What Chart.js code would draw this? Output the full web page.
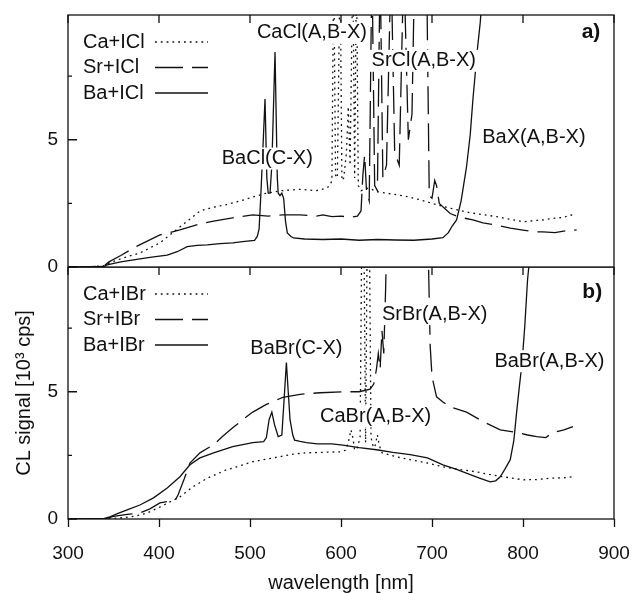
<!DOCTYPE html>
<html>
<head>
<meta charset="utf-8">
<script src="https://cdn.jsdelivr.net/npm/chart.js@4/dist/chart.umd.min.js"></script>
<style>
  body { margin: 0; background: #fff; }
  #wrap { position: relative; width: 634px; height: 593px; }
  canvas { position: absolute; left: 0; }
</style>
</head>
<body>
<div id="wrap">
  <canvas id="chartB" width="634" height="326" style="top:267px"></canvas>
  <canvas id="chartA" width="634" height="282" style="top:0"></canvas>
</div>
<script>
// axis ticks
const xTicks = [300, 400, 500, 600, 700, 800, 900];
const yTicks = [0, 2.5, 5, 7.5];

// panel a) : M + ICl   (wavelength in nm, signal in 10^3 cps)
const caIClWl = [300, 320, 340, 345, 360, 379, 390, 401, 415, 431, 445, 460, 474, 490, 503, 518, 535, 555, 573, 584, 588, 590, 592, 594, 596, 599, 601, 603, 606, 608, 610, 613, 615, 617, 619, 622, 630, 640, 650, 661, 675, 687, 700, 712, 727, 742, 757, 771, 785, 800, 812, 822, 835, 845, 852, 858];
const caIClVal = [0, 0, 0.05, 0.15, 0.35, 0.55, 0.75, 0.95, 1.35, 1.8, 2.2, 2.35, 2.45, 2.6, 2.75, 2.9, 3.0, 3.05, 3.0, 3.1, 3.2, 3.4, 12, 3.6, 3.5, 12, 3.4, 3.5, 4.5, 6.3, 4.0, 12, 3.5, 12, 3.2, 3.0, 3.1, 2.96, 2.9, 2.84, 2.75, 2.64, 2.5, 2.38, 2.25, 2.13, 2.05, 1.98, 1.88, 1.78, 1.82, 1.85, 1.92, 1.95, 2.05, 2.0];

const srIClWl = [300, 320, 340, 345, 358, 372, 386, 401, 412, 423, 434, 445, 460, 481, 503, 520, 536, 555, 573, 580, 590, 600, 610, 618, 622, 624, 626, 628, 631, 634, 637, 640, 643, 646, 650, 655, 659, 664, 669, 674, 678, 681, 694, 697, 700, 703, 705, 708, 714, 720, 727, 734, 745, 756, 770, 786, 800, 812, 822, 835, 847, 859];
const srIClVal = [0, 0, 0.05, 0.2, 0.45, 0.75, 1.0, 1.26, 1.35, 1.46, 1.58, 1.7, 1.8, 1.93, 2.05, 2.0, 2.05, 2.05, 2.0, 2.05, 1.98, 2.0, 1.95, 2.0, 2.2, 3.6, 4.4, 3.0, 2.6, 12, 3.2, 3.0, 12, 3.5, 4.0, 12, 4.5, 4.0, 12, 5.0, 6.0, 12, 12, 2.8, 2.7, 3.4, 3.2, 2.5, 2.3, 2.1, 2.0, 1.93, 1.85, 1.73, 1.65, 1.53, 1.45, 1.38, 1.38, 1.35, 1.42, 1.46];

const baIClWl = [300, 320, 340, 343, 358, 372, 390, 409, 420, 431, 442, 453, 467, 481, 492, 505, 508, 510, 512, 514, 516.5, 518.5, 520, 522, 524, 527.5, 530, 531, 533, 535, 537, 539, 541, 545, 548, 560, 580, 600, 620, 640, 660, 680, 700, 712, 718, 722, 727, 732, 738, 742, 745, 748, 750, 753, 756];
const baIClVal = [0, 0, 0.02, 0.08, 0.2, 0.28, 0.38, 0.47, 0.6, 0.8, 0.85, 0.87, 0.92, 0.95, 1.0, 1.05, 1.2, 1.5, 2.9, 4.5, 6.6, 3.5, 2.9, 2.9, 4.0, 8.45, 3.5, 2.9, 2.8, 2.9, 2.7, 1.8, 1.34, 1.2, 1.14, 1.1, 1.08, 1.1, 1.05, 1.08, 1.06, 1.05, 1.1, 1.15, 1.35, 1.6, 1.85, 2.6, 3.95, 5.2, 6.6, 7.8, 8.6, 9.6, 11];

// panel b) : M + IBr
const caIBrWl = [300, 320, 340, 360, 375, 387, 400, 412, 423, 437, 453, 474, 490, 503, 518, 533, 548, 562, 580, 599, 605, 608, 611, 613, 615, 618, 621, 623, 625, 627, 629, 631, 633, 635, 637, 640, 642, 645, 660, 676, 695, 712, 730, 749, 763, 778, 800, 815, 830, 845, 855];
const caIBrVal = [0, 0, 0, 0.05, 0.12, 0.24, 0.45, 0.67, 0.87, 1.26, 1.6, 1.93, 2.1, 2.25, 2.35, 2.45, 2.55, 2.6, 2.62, 2.64, 2.7, 3.0, 3.5, 3.2, 2.7, 2.8, 3.2, 12, 12, 3.0, 12, 12, 3.2, 2.9, 2.8, 3.3, 2.9, 2.6, 2.45, 2.33, 2.2, 2.05, 1.95, 1.85, 1.75, 1.66, 1.54, 1.55, 1.6, 1.62, 1.66];

const srIBrWl = [300, 320, 340, 350, 365, 379, 390, 401, 412, 418, 421, 428, 434, 445, 460, 470, 481, 492, 503, 518, 536, 555, 577, 602, 620, 632, 636, 639, 641, 643, 645, 647, 649, 651, 695, 698, 700, 705, 712, 720, 738, 756, 775, 793, 805, 815, 825, 833, 845, 855];
const srIBrVal = [0, 0, 0, 0.1, 0.18, 0.24, 0.4, 0.63, 0.71, 0.75, 0.95, 1.6, 2.2, 2.6, 2.92, 3.25, 3.58, 3.9, 4.2, 4.5, 4.78, 4.9, 4.96, 5.0, 5.0, 5.1, 5.3, 5.9, 6.5, 5.9, 7.4, 6.5, 9, 12, 12, 6.8, 5.6, 4.8, 4.6, 4.4, 4.2, 3.83, 3.5, 3.4, 3.3, 3.24, 3.2, 3.4, 3.5, 3.63];

const baIBrWl = [300, 320, 340, 346, 355, 365, 379, 394, 409, 423, 434, 445, 460, 481, 503, 515, 518, 521, 524, 527, 531, 535, 538, 540, 542, 544, 547, 549, 555, 562, 574, 590, 602, 620, 639, 657, 676, 695, 712, 727, 742, 753, 764, 770, 775, 780, 786, 790, 793, 796, 799, 802, 805, 808, 812];
const baIBrVal = [0, 0, 0.02, 0.08, 0.22, 0.36, 0.55, 0.83, 1.22, 1.66, 2.13, 2.4, 2.6, 2.84, 3.0, 3.04, 3.2, 3.9, 4.2, 3.7, 3.24, 3.3, 5.0, 6.15, 5.0, 3.9, 3.3, 3.1, 3.05, 3.0, 2.95, 2.95, 2.9, 2.8, 2.72, 2.62, 2.53, 2.4, 2.13, 1.95, 1.74, 1.6, 1.46, 1.5, 1.66, 1.95, 2.33, 3.1, 4.2, 5.2, 6.15, 7.6, 9.4, 10.5, 12];

const FONT = '"Liberation Sans", Arial, Helvetica, sans-serif';
const DOTTED = [1.8, 4];
const DASHED = [28, 9];

function pts(wl, val) {
  return wl.map((w, i) => ({ x: w, y: val[i] }));
}

function line(label, wl, val, dash) {
  return {
    label: label,
    data: pts(wl, val),
    borderColor: '#111',
    borderWidth: 1.3,
    borderDash: dash,
    pointRadius: 0,
    tension: 0,
    fill: false
  };
}

// frame, inward ticks, in-plot legend and labels (gnuplot look)
function decor(id, notes) {
  return {
    id: id,
    afterDatasetsDraw(chart) {
      const { ctx, chartArea: a, scales: { x, y } } = chart;
      ctx.save();
      ctx.strokeStyle = '#111';
      ctx.fillStyle = '#111';
      ctx.lineWidth = 1.3;
      ctx.setLineDash([]);

      // labels with white boxes
      ctx.textBaseline = 'middle';
      for (const n of notes) {
        ctx.font = (n.bold ? 'bold 21px ' : '20px ') + FONT;
        ctx.textAlign = n.align || 'center';
        const px = x.getPixelForValue(n.x);
        const py = y.getPixelForValue(n.y);
        if (!n.bold) {
          const w = ctx.measureText(n.text).width;
          const left = ctx.textAlign === 'center' ? px - w / 2 : px;
          ctx.fillStyle = '#fff';
          ctx.fillRect(left - 2, py - 11, w + 4, 22);
          ctx.fillStyle = '#111';
        }
        ctx.fillText(n.text, px, py);
      }

      // legend (text left, line sample right)
      ctx.font = '20px ' + FONT;
      ctx.textAlign = 'left';
      chart.data.datasets.forEach((ds, i) => {
        const ly = a.top + 27 + i * 25.5;
        ctx.fillText(ds.label, a.left + 15, ly);
        ctx.setLineDash(ds.borderDash || []);
        ctx.beginPath();
        ctx.moveTo(a.left + 87, ly);
        ctx.lineTo(a.left + 140, ly);
        ctx.stroke();
      });
      ctx.setLineDash([]);

      // box
      ctx.strokeRect(a.left, a.top, a.right - a.left, a.bottom - a.top);

      // inward ticks: top edge and left edge
      ctx.beginPath();
      xTicks.forEach(v => {
        const px = x.getPixelForValue(v);
        ctx.moveTo(px, a.top);
        ctx.lineTo(px, a.top + 8);
      });
      yTicks.forEach(v => {
        const py = y.getPixelForValue(v);
        const len = v % 5 === 0 ? 9 : 4;
        ctx.moveTo(a.left, py);
        ctx.lineTo(a.left + len, py);
      });
      ctx.stroke();
      ctx.restore();
    }
  };
}

function yScale(withTitle) {
  return {
    min: 0,
    max: 9.9,
    afterBuildTicks: s => { s.ticks = yTicks.map(v => ({ value: v })); },
    afterFit: s => {
      s.width = 68;
      s.paddingTop = 0;
      s.paddingBottom = 0;
    },
    grid: { display: false, drawTicks: false },
    border: { display: false },
    ticks: {
      padding: 10,
      color: '#111',
      font: { family: FONT, size: 19 },
      callback: v => (v % 5 === 0 ? String(v) : '')
    },
    title: {
      display: withTitle,
      text: 'CL signal [10³ cps]',
      color: '#111',
      padding: { top: 12 },
      font: { family: FONT, size: 20 }
    }
  };
}

function xScale(show) {
  return {
    type: 'linear',
    min: 300,
    max: 900,
    display: show,
    afterBuildTicks: s => { s.ticks = xTicks.map(v => ({ value: v })); },
    afterFit: s => {
      s.paddingLeft = 0;
      s.paddingRight = 0;
      s.height = show ? 74 : 0;
    },
    grid: { drawOnChartArea: false, tickLength: 8, color: '#111', tickWidth: 1.3 },
    border: { display: false },
    ticks: {
      padding: 15,
      color: '#111',
      maxRotation: 0,
      font: { family: FONT, size: 19 }
    },
    title: {
      display: true,
      text: 'wavelength [nm]',
      color: '#111',
      padding: 0,
      font: { family: FONT, size: 20, lineHeight: 1 }
    }
  };
}

const notesA = [
  { text: 'CaCl(A,B-X)', x: 568, y: 9.2 },
  { text: 'SrCl(A,B-X)', x: 691, y: 8.1 },
  { text: 'BaX(A,B-X)', x: 812, y: 5.1 },
  { text: 'BaCl(C-X)', x: 519, y: 4.26 },
  { text: 'a)', x: 885, y: 9.24, align: 'right', bold: true }
];

const notesB = [
  { text: 'SrBr(A,B-X)', x: 703, y: 8.05 },
  { text: 'BaBr(C-X)', x: 551, y: 6.7 },
  { text: 'BaBr(A,B-X)', x: 829, y: 6.2 },
  { text: 'CaBr(A,B-X)', x: 638, y: 4.03 },
  { text: 'b)', x: 887, y: 8.92, align: 'right', bold: true }
];

const common = {
  responsive: false,
  animation: false,
  devicePixelRatio: 1,
  plugins: { legend: { display: false }, tooltip: { enabled: false } }
};

new Chart(document.getElementById('chartA'), {
  type: 'line',
  data: {
    datasets: [
      line('Ca+ICl', caIClWl, caIClVal, DOTTED),
      line('Sr+ICl', srIClWl, srIClVal, DASHED),
      line('Ba+ICl', baIClWl, baIClVal, [])
    ]
  },
  options: Object.assign({}, common, {
    layout: { padding: { top: 15, right: 20, left: 0, bottom: 15 } },
    scales: { x: xScale(false), y: yScale(false) }
  }),
  plugins: [decor('decorA', notesA)]
});

new Chart(document.getElementById('chartB'), {
  type: 'line',
  data: {
    datasets: [
      line('Ca+IBr', caIBrWl, caIBrVal, DOTTED),
      line('Sr+IBr', srIBrWl, srIBrVal, DASHED),
      line('Ba+IBr', baIBrWl, baIBrVal, [])
    ]
  },
  options: Object.assign({}, common, {
    layout: { padding: { top: 0, right: 20, left: 0, bottom: 0 } },
    scales: { x: xScale(true), y: yScale(true) }
  }),
  plugins: [decor('decorB', notesB)]
});
</script>
</body>
</html>
